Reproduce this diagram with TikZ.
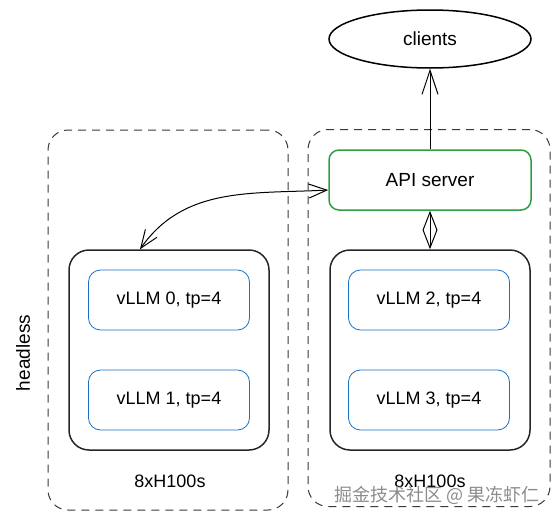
\documentclass[tikz,border=0pt]{standalone}
\usepackage{fontspec}
\setmainfont{Liberation Sans}
\newfontfamily\cjkfont{Noto Sans CJK SC}
\usepackage{xcolor}
\usetikzlibrary{shapes.geometric, positioning}
\usetikzlibrary{arrows.meta}
\definecolor{servergreen}{HTML}{2F9E44}
\definecolor{workerblue}{HTML}{1971C2}
\definecolor{groupgray}{HTML}{343A40}

\begin{document}
\begin{tikzpicture}[x=1pt, y=-1pt]
\useasboundingbox (0,0) rectangle (558,520);
% Define styles
\tikzstyle{group} = [rectangle, draw=groupgray, dash pattern=on 8pt off 6pt, rounded corners=20pt, line width=1pt]
\tikzstyle{host} = [rectangle, draw=black!85, rounded corners=20pt, line width=1.5pt, minimum width=200pt, minimum height=200pt]
\tikzstyle{worker} = [rectangle, draw=workerblue, rounded corners=12pt, line width=0.8pt, minimum width=161pt, minimum height=60pt, font=\fontsize{18}{20}\selectfont]
\tikzstyle{server} = [rectangle, draw=servergreen, rounded corners=10pt, line width=1.5pt, minimum width=202pt, minimum height=60pt, font=\fontsize{19}{22}\selectfont]
\tikzstyle{label} = [font=\fontsize{18}{20}\selectfont]
\tikzstyle{link} = [line width=1pt, {Straight Barb[length=18pt, width=14pt]}-{Straight Barb[length=18pt, width=14pt]}]
\tikzstyle{uplink} = [line width=1pt, -{Straight Barb[length=24pt, width=16pt]}]
% Define nodes
\node[group, minimum width=240pt, minimum height=380pt] (left_group) at (168,320) {};
\node[group, minimum width=242pt, minimum height=377pt] (right_group) at (429,318) {};
\node[ellipse, draw, line width=1.5pt, minimum width=202pt, minimum height=58pt, font=\fontsize{19}{22}\selectfont] (clients) at (430,39) {clients};
\node[server] (api) at (430,180) {API server};
\node[host] (left_host) at (169,350) {};
\node[host] (right_host) at (430,350) {};
\node[worker] (vllm_0) at (169,300) {vLLM 0, tp=4};
\node[worker] (vllm_1) at (169,400) {vLLM 1, tp=4};
\node[worker] (vllm_2) at (429,300) {vLLM 2, tp=4};
\node[worker] (vllm_3) at (429,400) {vLLM 3, tp=4};
\node[label] (left_gpus) at (170,481) {8xH100s};
\node[label] (right_gpus) at (430,481) {8xH100s};
\node[label, rotate=90, font=\fontsize{19}{22}\selectfont] (headless) at (23,353) {headless};
\node[text=black!45, font=\cjkfont\fontsize{18}{20}\selectfont] (watermark) at (437,495) {掘金技术社区 @ 果冻虾仁};
% Connect the nodes
\draw[uplink] (api) -- (clients);
\draw[link] (api) -- (right_host);
\draw[link] ([yshift=-10pt]api.west) to[out=183, in=55] ([xshift=-29pt]left_host.north);
\end{tikzpicture}
\end{document}
